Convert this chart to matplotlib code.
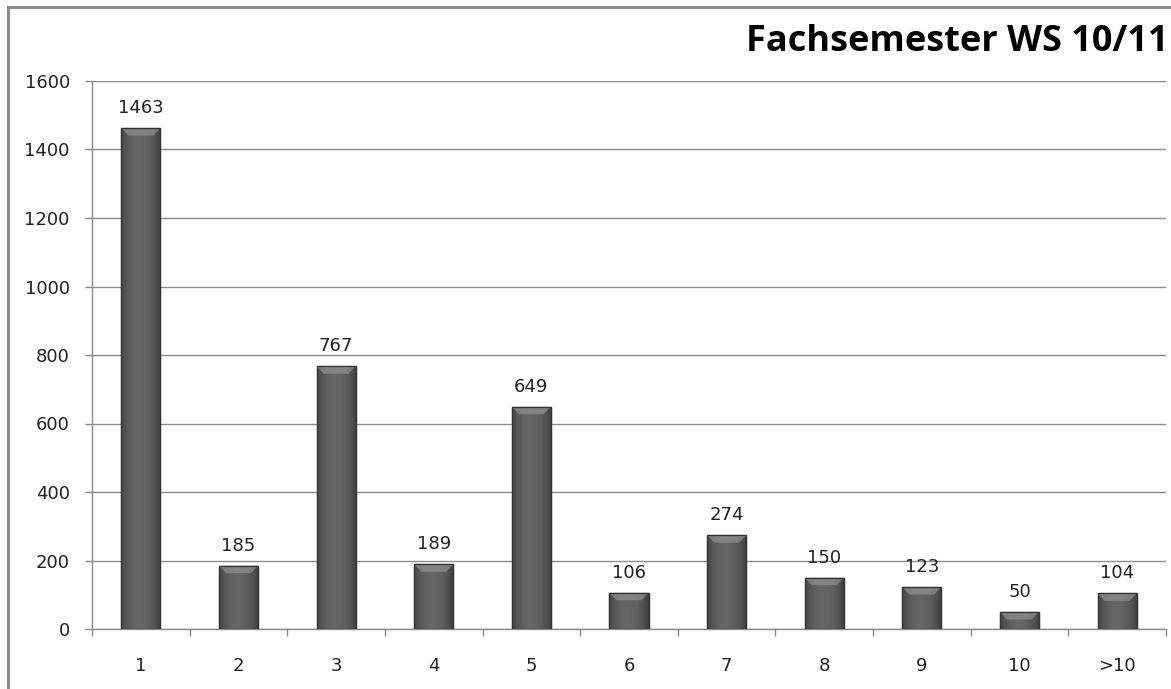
import numpy as np
import matplotlib
matplotlib.use("Agg")
import matplotlib.pyplot as plt
from matplotlib.patches import Rectangle

plt.rcParams["font.family"] = ["DejaVu Sans"]

# data
categories = ["1", "2", "3", "4", "5", "6", "7", "8", "9", "10", ">10"]
counts = [1463, 185, 767, 189, 649, 106, 274, 150, 123, 50, 104]
y_ticks = [0, 200, 400, 600, 800, 1000, 1200, 1400, 1600]
title = "Fachsemester WS 10/11"

W, H = 1171, 689
fig = plt.figure(figsize=(W / 100, H / 100), dpi=100)
fig.patch.set_facecolor("white")

# outer chart frame (top + left visible, rest cropped)
fig.patches.append(Rectangle((8 / W, -0.1), 1.2, (H - 7) / H + 0.1,
                             transform=fig.transFigure, fill=False,
                             edgecolor="#8a8a8a", linewidth=2.2, zorder=0))

ax = fig.add_axes([92 / W, 60 / H, 1074 / W, 548 / H])
x = np.arange(len(categories))
bar_w = 0.40

# horizontal shading to mimic the bevelled bars
grad = np.array([0.28, 0.34, 0.38, 0.40, 0.39, 0.37, 0.32, 0.25])
grad = np.interp(np.linspace(0, 1, 64), np.linspace(0, 1, len(grad)), grad)
img = np.tile(grad, (2, 1))

bars = ax.bar(x, counts, width=bar_w, color="#5a5a5a",
              edgecolor="#333333", linewidth=0.9, zorder=3)
for b in bars:
    x0, w, h = b.get_x(), b.get_width(), b.get_height()
    im = ax.imshow(img, cmap="gray", vmin=0, vmax=1, aspect="auto",
                   extent=[x0, x0 + w, 0, h], zorder=3.5,
                   interpolation="bicubic")
    im.set_clip_path(b)
    # light bevel at the top
    cap = min(h * 0.5, 22)
    ax.fill([x0, x0 + w, x0 + w * 0.82, x0 + w * 0.18],
            [h, h, h - cap, h - cap], color="#9a9a9a", alpha=0.6,
            zorder=3.6, linewidth=0)
    ax.add_patch(Rectangle((x0, 0), w, h, fill=False, edgecolor="#333333",
                           linewidth=0.9, zorder=3.7))
    ax.annotate(f"{int(h)}", (x0 + w / 2, h), xytext=(0, 8),
                textcoords="offset points", ha="center", va="bottom",
                fontsize=13, color="#222222")

ax.set_xlim(-0.5, len(categories) - 0.5)
ax.set_ylim(0, 1600)
ax.set_yticks(y_ticks)
ax.set_xticks(x)
ax.set_xticklabels(categories)
ax.set_xticks(np.arange(len(categories) + 1) - 0.5, minor=True)

ax.yaxis.grid(True, color="#8c8c8c", linewidth=1.0, zorder=0)
ax.set_axisbelow(True)

for s in ["top", "right"]:
    ax.spines[s].set_visible(False)
for s in ["left", "bottom"]:
    ax.spines[s].set_color("#8c8c8c")
    ax.spines[s].set_linewidth(1.0)

ax.tick_params(axis="y", length=5, width=1.0, color="#8c8c8c", pad=11,
               labelsize=13, labelcolor="#222222")
ax.tick_params(axis="x", which="major", length=0, pad=20,
               labelsize=13, labelcolor="#222222")
ax.tick_params(axis="x", which="minor", length=5, width=1.0, color="#8c8c8c")

fig.text(1168 / W, 1 - 42 / H, title, ha="right", va="center",
         fontsize=26, fontweight="bold", family="Open Sans", color="black")

fig.savefig("out.png", dpi=100)
